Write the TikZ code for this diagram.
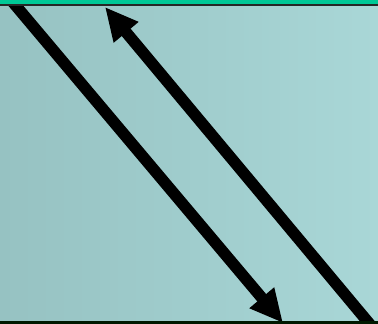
\documentclass[tikz,border=0pt]{standalone}
\usetikzlibrary{arrows.meta}
\definecolor{bgLeft}{HTML}{96C2C2}
\definecolor{bgRight}{HTML}{A9D7D7}
\definecolor{topGreen}{HTML}{00C896}
\begin{document}
\begin{tikzpicture}[x=1pt, y=-1pt,
  bar/.style={line width=11.5pt, black, -{Triangle[length=33pt, width=30pt]}}]
\useasboundingbox (0,0) rectangle (378,324);
% background
\shade[left color=bgLeft, right color=bgRight] (0,0) rectangle (378,324);
% anchors
\coordinate (s1) at (11,0);
\coordinate (e1) at (283,323);
\coordinate (s2) at (373,328);
\coordinate (e2) at (105,7);
% arrows
\begin{scope}
\clip (0,0) rectangle (378,324);
\draw[bar] (s1) -- (e1);
\draw[bar] (s2) -- (e2);
\end{scope}
% top and bottom edges
\fill[topGreen] (0,0) rectangle (378,4);
\fill[black!85] (0,4) rectangle (378,5.5);
\fill[black!90!green] (0,321) rectangle (378,324);
\end{tikzpicture}
\end{document}
